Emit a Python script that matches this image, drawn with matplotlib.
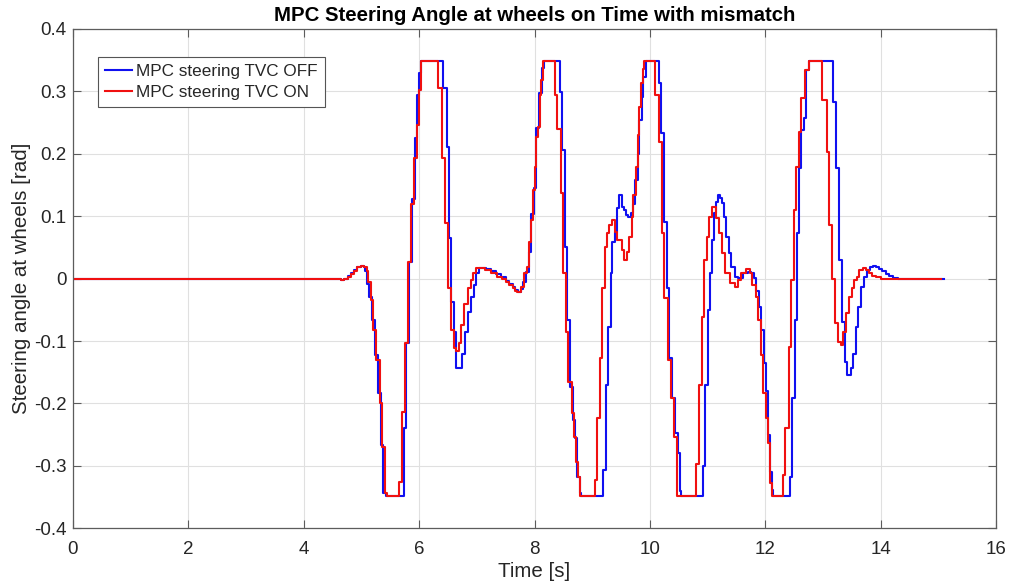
import numpy as np
import matplotlib
matplotlib.use('Agg')
import matplotlib.pyplot as plt

# ---------------- data (zero-order-hold breakpoints) ----------------
t_off = [0.0, 4.50, 4.60, 4.65, 4.70, 4.76, 4.82, 4.87, 4.93, 4.99, 5.04, 5.07, 5.10,
         5.131, 5.177, 5.229, 5.286, 5.331, 5.377, 5.423, 5.731, 5.777, 5.817, 5.874,
         5.931, 5.971, 6.006, 6.029, 6.417, 6.486, 6.52, 6.56, 6.60, 6.634, 6.743,
         6.789, 6.846, 6.891, 6.943, 6.989, 7.046, 7.10, 7.16, 7.25, 7.33, 7.42, 7.50,
         7.56, 7.62, 7.67, 7.72, 7.76, 7.80, 7.85, 7.90, 7.947, 7.988, 8.029, 8.075,
         8.122, 8.162, 8.435, 8.481, 8.527, 8.568, 8.609, 8.667, 8.701, 8.742, 8.783,
         8.806, 9.188, 9.235, 9.281, 9.322, 9.351, 9.397, 9.438, 9.467, 9.513, 9.554,
         9.583, 9.617, 9.669, 9.710, 9.745, 9.786, 9.815, 9.855, 9.884, 9.93, 10.151,
         10.191, 10.249, 10.29, 10.336, 10.383, 10.435, 10.481, 10.522, 10.545, 10.916,
         10.962, 11.003, 11.043, 11.078, 11.119, 11.148, 11.177, 11.217, 11.252, 11.293,
         11.322, 11.368, 11.409, 11.467, 11.525, 11.612, 11.698, 11.756, 11.797, 11.843,
         11.89, 11.93, 11.975, 12.015, 12.055, 12.09, 12.12, 12.14, 12.423, 12.464,
         12.51, 12.551, 12.591, 12.626, 12.667, 12.707, 12.754, 13.171, 13.229, 13.275,
         13.322, 13.38, 13.42, 13.478, 13.525, 13.565, 13.612, 13.652, 13.71, 13.768,
         13.82, 13.87, 13.92, 13.97, 14.03, 14.09, 14.15, 14.22, 14.30, 15.10]
y_off = [0.0, 0.0, -0.001, -0.002, 0.0, 0.004, 0.009, 0.014, 0.019, 0.021, 0.018, 0.012,
         -0.008, -0.029, -0.066, -0.122, -0.183, -0.266, -0.343, -0.349, -0.24, -0.103,
         0.027, 0.128, 0.225, 0.294, 0.33, 0.349, 0.305, 0.211, 0.065, -0.037, -0.085,
         -0.143, -0.12, -0.085, -0.053, -0.029, -0.010, 0.009, 0.017, 0.017, 0.016,
         0.012, 0.008, 0.003, -0.003, -0.008, -0.013, -0.018, -0.021, -0.016, -0.005,
         0.01, 0.043, 0.104, 0.145, 0.241, 0.297, 0.337, 0.349, 0.299, 0.206, 0.051,
         -0.066, -0.173, -0.226, -0.255, -0.317, -0.343, -0.349, -0.306, -0.170, -0.077,
         0.009, 0.059, 0.075, 0.113, 0.134, 0.115, 0.11, 0.102, 0.099, 0.105, 0.12,
         0.158, 0.2, 0.254, 0.291, 0.323, 0.349, 0.313, 0.233, 0.091, -0.015, -0.127,
         -0.191, -0.247, -0.279, -0.341, -0.349, -0.300, -0.170, -0.050, 0.009, 0.062,
         0.105, 0.123, 0.134, 0.13, 0.121, 0.099, 0.067, 0.041, 0.019, 0.003, 0.001,
         0.009, 0.011, 0.009, 0.001, -0.019, -0.045, -0.083, -0.135, -0.18, -0.25,
         -0.31, -0.338, -0.349, -0.317, -0.191, -0.066, 0.073, 0.177, 0.238, 0.257,
         0.334, 0.349, 0.283, 0.177, 0.030, -0.069, -0.133, -0.154, -0.143, -0.120,
         -0.077, -0.045, -0.013, 0.003, 0.014, 0.018, 0.020, 0.019, 0.016, 0.012,
         0.007, 0.004, 0.001, 0.0, 0.0]

t_on = [0.0, 4.50, 4.60, 4.65, 4.70, 4.76, 4.82, 4.87, 4.93, 4.99, 5.05, 5.09, 5.12,
        5.16, 5.206, 5.246, 5.314, 5.36, 5.40, 5.446, 5.657, 5.703, 5.76, 5.80, 5.863,
        5.903, 5.96, 5.989, 6.029, 6.32, 6.389, 6.457, 6.503, 6.56, 6.60, 6.646, 6.691,
        6.731, 6.777, 6.846, 6.891, 6.931, 6.989, 7.074, 7.15, 7.25, 7.35, 7.43, 7.50,
        7.56, 7.62, 7.67, 7.70, 7.76, 7.817, 7.863, 7.903, 7.931, 7.97, 8.00, 8.029,
        8.063, 8.087, 8.116, 8.145, 8.353, 8.394, 8.452, 8.493, 8.539, 8.585, 8.643,
        8.684, 8.713, 8.759, 8.788, 9.049, 9.09, 9.13, 9.177, 9.223, 9.264, 9.293,
        9.339, 9.397, 9.438, 9.513, 9.554, 9.60, 9.641, 9.687, 9.71, 9.757, 9.786,
        9.815, 9.843, 9.872, 9.90, 10.093, 10.151, 10.203, 10.249, 10.307, 10.365,
        10.423, 10.464, 10.80, 10.858, 10.904, 10.945, 10.991, 11.032, 11.078, 11.148,
        11.206, 11.252, 11.31, 11.38, 11.467, 11.525, 11.583, 11.67, 11.727, 11.774,
        11.832, 11.878, 11.919, 11.96, 12.006, 12.046, 12.075, 12.11, 12.301, 12.348,
        12.406, 12.446, 12.493, 12.533, 12.58, 12.626, 12.696, 12.754, 12.985, 13.072,
        13.113, 13.159, 13.206, 13.258, 13.304, 13.351, 13.403, 13.449, 13.496, 13.536,
        13.583, 13.623, 13.693, 13.75, 13.80, 13.855, 13.92, 14.0, 15.05]
y_on = [0.0, 0.0, -0.001, -0.002, 0.0, 0.003, 0.008, 0.013, 0.018, 0.021, 0.019, 0.013,
        -0.005, -0.034, -0.082, -0.130, -0.2, -0.269, -0.343, -0.349, -0.325, -0.213,
        -0.103, 0.027, 0.12, 0.193, 0.246, 0.302, 0.349, 0.305, 0.193, 0.089, -0.015,
        -0.082, -0.111, -0.116, -0.103, -0.074, -0.040, -0.015, -0.002, 0.009, 0.017,
        0.017, 0.014, 0.009, 0.003, -0.001, -0.005, -0.010, -0.015, -0.019, -0.021,
        -0.013, 0.009, 0.019, 0.059, 0.094, 0.142, 0.179, 0.227, 0.243, 0.294, 0.318,
        0.349, 0.294, 0.24, 0.137, 0.009, -0.085, -0.165, -0.215, -0.253, -0.293,
        -0.317, -0.349, -0.323, -0.223, -0.127, -0.015, 0.051, 0.073, 0.086, 0.094,
        0.075, 0.062, 0.046, 0.030, 0.043, 0.067, 0.099, 0.134, 0.179, 0.23, 0.275,
        0.313, 0.336, 0.349, 0.294, 0.219, 0.073, -0.031, -0.130, -0.191, -0.253,
        -0.349, -0.297, -0.17, -0.061, 0.030, 0.067, 0.099, 0.115, 0.097, 0.073,
        0.041, 0.009, -0.007, -0.013, -0.002, 0.009, 0.015, 0.009, -0.010, -0.029,
        -0.066, -0.122, -0.183, -0.223, -0.263, -0.327, -0.349, -0.315, -0.24,
        -0.109, -0.002, 0.11, 0.179, 0.235, 0.289, 0.334, 0.349, 0.286, 0.203, 0.086,
        0.0, -0.071, -0.101, -0.106, -0.085, -0.055, -0.029, -0.015, -0.002, 0.002,
        0.014, 0.017, 0.014, 0.009, 0.005, 0.002, 0.0, 0.0]

x_ticks = [0, 2, 4, 6, 8, 10, 12, 14, 16]
y_ticks = [-0.4, -0.3, -0.2, -0.1, 0.0, 0.1, 0.2, 0.3, 0.4]
y_tick_labels = ['-0.4', '-0.3', '-0.2', '-0.1', '0', '0.1', '0.2', '0.3', '0.4']
series_labels = ['MPC steering TVC OFF', 'MPC steering TVC ON']

# ---------------- figure ----------------
plt.rcParams['font.family'] = ['Liberation Sans', 'DejaVu Sans']
txt = '#262626'
spine_c = '#5c5c5c'

fig = plt.figure(figsize=(10.11, 5.88), dpi=100)
ax = fig.add_axes([0.0722, 0.1015, 0.9130, 0.8492])

ax.plot(t_off, y_off, drawstyle='steps-post', color='#1010f0', lw=1.5, label=series_labels[0])
ax.plot(t_on, y_on, drawstyle='steps-post', color='#f01010', lw=1.5, label=series_labels[1])

ax.set_xlim(0, 16)
ax.set_ylim(-0.4, 0.4)
ax.set_xticks(x_ticks)
ax.set_yticks(y_ticks)
ax.set_yticklabels(y_tick_labels)

ax.grid(True, color='#e0e0e0', lw=0.8)
ax.set_axisbelow(True)
for s in ax.spines.values():
    s.set_color(spine_c)
    s.set_linewidth(0.9)

ax.tick_params(axis='both', direction='in', length=6, width=0.8, top=True, right=True,
               color=spine_c, labelcolor=txt, labelsize=13.5)
ax.tick_params(axis='x', pad=9)
ax.tick_params(axis='y', pad=4.5)

ax.set_title('MPC Steering Angle at wheels on Time with mismatch', fontsize=14.7,
             fontweight='bold', color='black', pad=6)
ax.set_xlabel('Time [s]', fontsize=14.8, color=txt)
ax.set_ylabel('Steering angle at wheels [rad]', fontsize=14.8, color=txt)
ax.xaxis.set_label_coords(0.5, -0.068)
ax.yaxis.set_label_coords(-0.046, 0.5)

leg = ax.legend(loc='upper left', bbox_to_anchor=(0.0268, 0.9445), borderaxespad=0,
                fontsize=12.3, fancybox=False, framealpha=1, edgecolor='#555555',
                borderpad=0.4, handlelength=1.6, handletextpad=0.25, labelspacing=0.38)
leg.get_frame().set_linewidth(0.8)
for t in leg.get_texts():
    t.set_color(txt)

fig.savefig('out.png', dpi=100)
